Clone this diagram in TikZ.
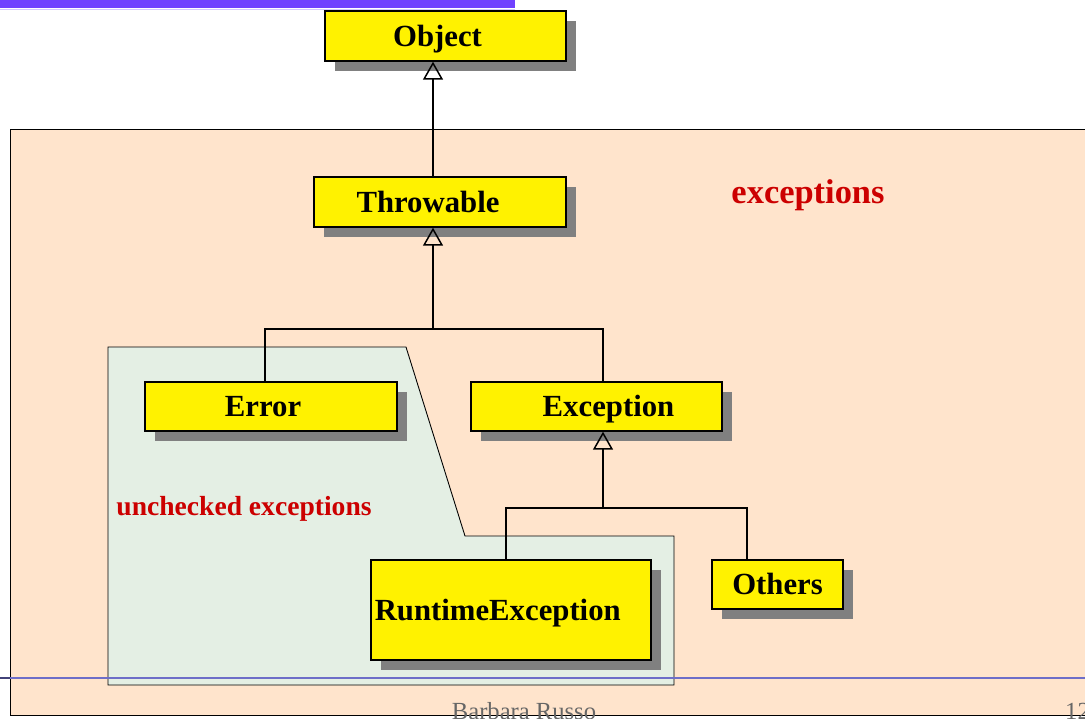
\documentclass[tikz,border=0pt]{standalone}
\usepackage{fontspec}
\setmainfont{Liberation Serif}
\usetikzlibrary{arrows.meta,shadows,calc}
\definecolor{peach}{RGB}{255,228,204}
\definecolor{mint}{RGB}{228,239,228}
\definecolor{barpurple}{RGB}{112,64,255}
\definecolor{exred}{RGB}{204,0,0}
\definecolor{rulebl}{RGB}{110,110,200}
\tikzset{
  cls/.style={rectangle, draw=black, line width=0.8pt, fill=yellow, minimum height=1cm, inner sep=2pt, text height=11.5pt, text depth=0pt, font=\fontsize{17.5}{20}\selectfont\bfseries, drop shadow={shadow xshift=0.2cm, shadow yshift=-0.2cm, fill=black!50, opacity=1}},
  inh/.style={-{Triangle[open, length=0.36cm, width=0.4cm]}, line width=0.85pt, black},
  tree/.style={line width=0.85pt, black},
  area/.style={draw=black, line width=0.5pt},
  lbl/.style={text=exred, font=\bfseries}
}

\begin{document}
\begin{tikzpicture}[x=0.02cm, y=-0.02cm]
  \useasboundingbox (0,0) rectangle (1085,718);
  % regions
  \fill[barpurple] (0,0) rectangle (515,8);
  \draw[barpurple!30, line width=0.4pt] (0,9.5) -- (515,9.5);
  \draw[area, fill=peach] (1100,129) -- (10,129) -- (10,715) -- (1100,715);
  \draw[area, fill=mint] (108,347) -- (406,347) -- (465,536) -- (674,536) -- (674,685) -- (108,685) -- cycle;
  \draw[rulebl, line width=0.6pt] (0,678) -- (1085,678);
  \draw[rulebl!60!black, line width=0.8pt] (0,678) -- (10,678);

  \node[lbl, font=\fontsize{19.6}{22}\selectfont\bfseries] (exlbl) at (808,195) {exceptions};
  \node[lbl, font=\fontsize{15.7}{18}\selectfont\bfseries] (unlbl) at (244,509) {unchecked exceptions};

  % classes
  \node[cls, minimum width=4.82cm] (obj) at (445.5,36) {Object\hspace*{0.32cm}};
  \node[cls, minimum width=5.04cm] (throw) at (440,202) {Throwable\hspace*{0.48cm}};
  \node[cls, minimum width=5.04cm, minimum height=0.98cm] (err) at (271,406.5) {Error\hspace*{0.32cm}};
  \node[cls, minimum width=5.02cm, minimum height=0.98cm] (exc) at (596.5,406.5) {\hspace*{0.48cm}Exception};
  \node[cls, minimum width=5.6cm, minimum height=2cm, text width=5.45cm, align=left] (rte) at (511,610) {RuntimeException};
  \node[cls, minimum width=2.62cm, minimum height=0.98cm] (oth) at (777.5,584.5) {Others};

  % hierarchy
  \coordinate (j1) at (433,329);
  \coordinate (eleft) at (265,329);
  \coordinate (eright) at (603,329);
  \coordinate (j2) at (603,508);
  \coordinate (rleft) at (506,508);
  \coordinate (rright) at (747,508);
  \draw[inh] (j1 |- throw.north) -- (j1 |- obj.south);
  \draw[inh] (j1) -- (j1 |- throw.south);
  \draw[tree] (eleft |- err.north) -- (eleft) -- (eright) -- (eright |- exc.north);
  \draw[inh] (j2) -- (j2 |- exc.south);
  \draw[tree] (rleft |- rte.north) -- (rleft) -- (rright) -- (rright |- oth.north);

  % footer
  \node[text=black!60, font=\fontsize{14}{16}\selectfont, anchor=base] (auth) at (524,719) {Barbara Russo};
  \node[text=black!60, font=\fontsize{14}{16}\selectfont, anchor=base west] (pg) at (1059,719) {12};
\end{tikzpicture}
\end{document}
